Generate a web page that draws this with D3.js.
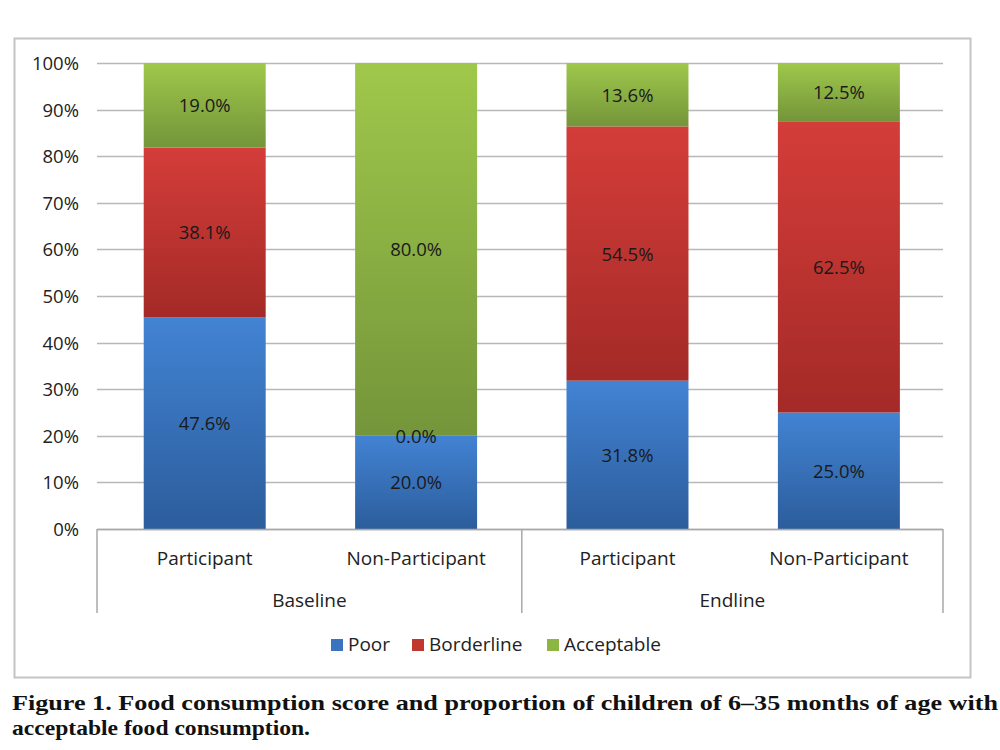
<!DOCTYPE html>
<html>
<head>
<meta charset="UTF-8">
<title>Food consumption score</title>
<script src="https://d3js.org/d3.v7.min.js"></script>
<style>
  body { margin: 0; background: #fff; }
  text { font-family: "Open Sans", Lato, sans-serif; fill: #222; }
</style>
</head>
<body>
<svg id="svg" width="1000" height="750"></svg>
<script>
var groups = ["Baseline", "Baseline", "Endline", "Endline"];
var categories = ["Participant", "Non-Participant", "Participant", "Non-Participant"];
var seriesNames = ["Poor", "Borderline", "Acceptable"];
var poor = [47.6, 20.0, 31.8, 25.0];
var borderline = [38.1, 0.0, 54.5, 62.5];
var acceptable = [19.0, 80.0, 13.6, 12.5];
var yTicks = [0, 0.1, 0.2, 0.3, 0.4, 0.5, 0.6, 0.7, 0.8, 0.9, 1];

var topColors = ["#4283d3", "#d43d39", "#9fc84b"];
var bottomColors = ["#2c5d9c", "#a42a27", "#74953a"];
var legendColors = ["#3a74c0", "#c0372f", "#8cb543"];

var svg = d3.select("svg");

// chart frame
svg.append("rect")
  .attr("x", 14.5).attr("y", 38.5)
  .attr("width", 956).attr("height", 639)
  .attr("fill", "#fff")
  .attr("stroke", "#c4c4c4")
  .attr("stroke-width", 2);

var plotLeft = 97, plotRight = 943, plotTop = 63, plotBottom = 529;

var x = d3.scaleBand()
  .domain(d3.range(categories.length))
  .range([plotLeft, plotRight])
  .paddingInner(0.423)
  .paddingOuter(0.2125)
  .align(0.52);

var y = d3.scaleLinear().domain([0, 1]).range([plotBottom, plotTop]);

var table = categories.map(function(c, i) {
  return { i: i, Poor: poor[i], Borderline: borderline[i], Acceptable: acceptable[i] };
});
var stack = d3.stack().keys(seriesNames).offset(d3.stackOffsetExpand);
var layers = stack(table);

// gradients
var defs = svg.append("defs");
seriesNames.forEach(function(s, k) {
  var g = defs.append("linearGradient")
    .attr("id", "grad" + k)
    .attr("x1", 0).attr("y1", 0).attr("x2", 0).attr("y2", 1);
  g.append("stop").attr("offset", "0%").attr("stop-color", topColors[k]);
  g.append("stop").attr("offset", "100%").attr("stop-color", bottomColors[k]);
});

// gridlines
svg.append("g")
  .selectAll("line")
  .data(yTicks)
  .enter().append("line")
  .attr("x1", plotLeft).attr("x2", plotRight)
  .attr("y1", function(d) { return Math.round(y(d)) + 0.5; })
  .attr("y2", function(d) { return Math.round(y(d)) + 0.5; })
  .attr("stroke", "#b8b8b8")
  .attr("stroke-width", 1.5);

// y tick labels
svg.append("g")
  .selectAll("text")
  .data(yTicks)
  .enter().append("text")
  .attr("x", 79)
  .attr("y", function(d) { return y(d) + 7; })
  .attr("text-anchor", "end")
  .style("font-size", "18.5px")
  .text(function(d) { return d3.format(".0%")(d); });

// bars
var layerG = svg.append("g")
  .selectAll("g")
  .data(layers)
  .enter().append("g")
  .attr("fill", function(d, k) { return "url(#grad" + k + ")"; });

layerG.selectAll("rect")
  .data(function(d) { return d; })
  .enter().append("rect")
  .attr("x", function(d) { return x(d.data.i); })
  .attr("width", x.bandwidth())
  .attr("y", function(d) { return y(d[1]); })
  .attr("height", function(d) { return y(d[0]) - y(d[1]); });

// value labels
layers.forEach(function(layer, k) {
  svg.append("g")
    .selectAll("text")
    .data(layer)
    .enter().append("text")
    .attr("x", function(d) { return x(d.data.i) + x.bandwidth() / 2; })
    .attr("y", function(d) { return (y(d[0]) + y(d[1])) / 2 + 7; })
    .attr("text-anchor", "middle")
    .style("font-size", "18.5px")
    .style("fill", "#1a1a1a")
    .text(function(d) { return d.data[layer.key].toFixed(1) + "%"; });
});

// axis line and separators
svg.append("line")
  .attr("x1", plotLeft).attr("x2", plotRight)
  .attr("y1", plotBottom + 0.5).attr("y2", plotBottom + 0.5)
  .attr("stroke", "#a8a8a8").attr("stroke-width", 1.5);

var groupNames = Array.from(new Set(groups));
var sepX = [plotLeft];
groupNames.forEach(function(g) {
  var last = groups.lastIndexOf(g);
  if (last === groups.length - 1) sepX.push(plotRight);
  else sepX.push((x(last) + x.bandwidth() + x(last + 1)) / 2);
});
svg.append("g")
  .selectAll("line")
  .data(sepX)
  .enter().append("line")
  .attr("x1", function(d) { return d; }).attr("x2", function(d) { return d; })
  .attr("y1", plotBottom).attr("y2", 613)
  .attr("stroke", "#a8a8a8").attr("stroke-width", 1.5);

// category labels
svg.append("g")
  .selectAll("text")
  .data(categories)
  .enter().append("text")
  .attr("x", function(d, i) { return x(i) + x.bandwidth() / 2; })
  .attr("y", 565)
  .attr("text-anchor", "middle")
  .style("font-size", "19px")
  .text(function(d) { return d; });

// group labels
svg.append("g")
  .selectAll("text")
  .data(groupNames)
  .enter().append("text")
  .attr("x", function(g, j) { return (sepX[j] + sepX[j + 1]) / 2; })
  .attr("y", 607)
  .attr("text-anchor", "middle")
  .style("font-size", "19px")
  .text(function(d) { return d; });

// legend
var legendX = [331, 412, 547];
var legend = svg.append("g")
  .selectAll("g")
  .data(seriesNames)
  .enter().append("g")
  .attr("transform", function(d, k) { return "translate(" + legendX[k] + ",639)"; });
legend.append("rect")
  .attr("width", 12).attr("height", 12)
  .attr("fill", function(d, k) { return legendColors[k]; });
legend.append("text")
  .attr("x", 17).attr("y", 12)
  .style("font-size", "19px")
  .text(function(d) { return d; });

// caption
svg.append("text")
  .attr("x", 12).attr("y", 710)
  .attr("textLength", 986)
  .attr("lengthAdjust", "spacingAndGlyphs")
  .style("font-family", "'Liberation Serif', serif")
  .style("font-weight", "bold")
  .style("font-size", "21px")
  .style("fill", "#111")
  .text("Figure 1. Food consumption score and proportion of children of 6–35 months of age with");
svg.append("text")
  .attr("x", 12).attr("y", 735)
  .attr("textLength", 298)
  .attr("lengthAdjust", "spacingAndGlyphs")
  .style("font-family", "'Liberation Serif', serif")
  .style("font-weight", "bold")
  .style("font-size", "21px")
  .style("fill", "#111")
  .text("acceptable food consumption.");
</script>
</body>
</html>
